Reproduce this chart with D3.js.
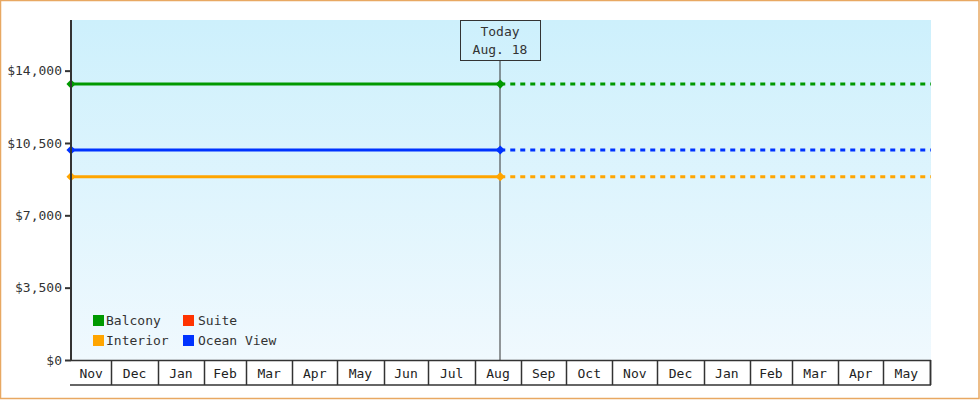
<!DOCTYPE html>
<html>
<head>
<meta charset="utf-8">
<script src="https://cdn.jsdelivr.net/npm/d3@7"></script>
<style>
  body { margin: 0; background: #fff; }
  svg { display: block; font-family: "DejaVu Sans Mono", monospace; }
</style>
</head>
<body>
<div class="chart"></div>
<script>
// data
var cabins = ["Balcony", "Suite", "Interior", "Ocean View"];
var cabinColors = ["#009900", "#ff3300", "#ffa500", "#0033ff"];
var prices = [13349, null, 8869, 10159];   // price on start day and today
var startDate = "2017-11-04";
var todayDate = "2018-08-18";
var endDate = "2019-06-02";
var todayLabel = ["Today", "Aug. 18"];
var yTicks = [0, 3500, 7000, 10500, 14000];
var yMax = 16450;

document.addEventListener('DOMContentLoaded', function() {

var width = 980, height = 400;
var plotL = 71, plotR = 931, plotT = 20, plotB = 360;

var parse = d3.timeParse("%Y-%m-%d");
var t0 = parse(startDate), tToday = parse(todayDate), t1 = parse(endDate);

var svg = d3.select('.chart')
            .append('svg')
            .attr('width', width)
            .attr('height', height);

// scales
var x = d3.scaleTime().domain([t0, t1]).range([plotL, plotR]);
var y = d3.scaleLinear().domain([0, yMax]).range([plotB, plotT]);

// background gradient
var grad = svg.append('defs').append('linearGradient')
  .attr('id', 'bg').attr('x1', 0).attr('y1', 0).attr('x2', 0).attr('y2', 1);
grad.append('stop').attr('offset', '0%').attr('stop-color', '#cdf0fc');
grad.append('stop').attr('offset', '100%').attr('stop-color', '#f0f9fe');

svg.append('rect')
  .attr('x', 0.5).attr('y', 0.5)
  .attr('width', width - 1.5).attr('height', height - 2)
  .attr('fill', '#fff')
  .attr('stroke', '#e8a862')
  .attr('stroke-width', 1.5);

svg.append('rect')
  .attr('x', plotL).attr('y', plotT)
  .attr('width', plotR - plotL).attr('height', plotB - plotT)
  .attr('fill', 'url(#bg)');

// today marker
var tx = Math.round(x(tToday));
svg.append('line')
  .attr('x1', tx).attr('x2', tx)
  .attr('y1', plotT + 40).attr('y2', plotB)
  .attr('stroke', '#333').attr('stroke-width', 1);
svg.append('rect')
  .attr('x', tx - 40 + 0.5).attr('y', plotT + 0.5)
  .attr('width', 80).attr('height', 40)
  .attr('fill', 'none').attr('stroke', '#333').attr('stroke-width', 1);
svg.append('text')
  .attr('text-anchor', 'middle')
  .attr('font-size', 13).attr('fill', '#333')
  .selectAll('tspan')
  .data(todayLabel)
  .enter()
    .append('tspan')
    .attr('x', tx)
    .attr('y', function(d, i) { return plotT + 16 + i * 18; })
    .text(function(d) { return d; });

// lines
var series = cabins.map(function(c, i) {
  return { name: c, color: cabinColors[i], price: prices[i] };
}).filter(function(s) { return s.price != null; });

var g = svg.append('g');
series.forEach(function(s) {
  g.append('line')
    .attr('x1', x(tToday)).attr('x2', x(t1))
    .attr('y1', y(s.price)).attr('y2', y(s.price))
    .attr('stroke', s.color).attr('stroke-width', 3)
    .attr('stroke-dasharray', '5,5');
  g.append('line')
    .attr('x1', x(t0)).attr('x2', x(tToday))
    .attr('y1', y(s.price)).attr('y2', y(s.price))
    .attr('stroke', s.color).attr('stroke-width', 3);
  [t0, tToday].forEach(function(t) {
    g.append('path')
      .attr('d', d3.symbol().type(d3.symbolSquare).size(42)())
      .attr('transform', 'translate(' + x(t) + ',' + y(s.price) + ') rotate(45)')
      .attr('fill', s.color);
  });
});

// y axis
var yAxis = svg.append('g')
  .attr('transform', 'translate(' + plotL + ',0)')
  .call(d3.axisLeft(y).tickValues(yTicks).tickSize(6).tickPadding(3)
    .tickFormat(function(d) { return '$' + d3.format(',')(d); }));
yAxis.select('.domain').remove();
yAxis.selectAll('.tick line').attr('stroke', '#333').attr('stroke-width', 2);
yAxis.selectAll('.tick text')
  .attr('font-family', '"DejaVu Sans Mono", monospace')
  .attr('font-size', 13).attr('fill', '#333');
svg.append('line')
  .attr('x1', plotL).attr('x2', plotL)
  .attr('y1', plotT).attr('y2', plotB + 1)
  .attr('stroke', '#333').attr('stroke-width', 2);

// month cells below the plot
var months = d3.timeMonth.range(d3.timeMonth.floor(t0), t1);
var xg = svg.append('g');
xg.append('line')
  .attr('x1', plotL - 1).attr('x2', plotR)
  .attr('y1', plotB + 25).attr('y2', plotB + 25)
  .attr('stroke', '#333').attr('stroke-width', 1.5);
xg.append('line')
  .attr('x1', plotL).attr('x2', plotR)
  .attr('y1', plotB + 0.5).attr('y2', plotB + 0.5)
  .attr('stroke', '#333').attr('stroke-width', 1.5);
xg.selectAll('line.sep')
  .data(months.filter(function(m) { return m > t0; }).concat([d3.timeMonth.floor(t1)]))
  .enter()
    .append('line')
    .attr('class', 'sep')
    .attr('x1', function(d) { return Math.round(x(d)) + 0.5; })
    .attr('x2', function(d) { return Math.round(x(d)) + 0.5; })
    .attr('y1', plotB).attr('y2', plotB + 25)
    .attr('stroke', '#333').attr('stroke-width', 1.5);
xg.selectAll('text')
  .data(months.filter(function(m) { return d3.timeMonth.offset(m, 1) <= t1; }))
  .enter()
    .append('text')
    .attr('x', function(d) {
      var a = Math.max(x(d), plotL);
      var b = Math.min(x(d3.timeMonth.offset(d, 1)), plotR);
      return (a + b) / 2;
    })
    .attr('y', plotB + 18)
    .attr('text-anchor', 'middle')
    .attr('font-size', 13).attr('fill', '#222')
    .text(d3.timeFormat('%b'));

// legend
var legend = svg.append('g').selectAll('g')
  .data(cabins)
  .enter()
    .append('g')
    .attr('transform', function(d, i) {
      return 'translate(' + (93 + (i % 2) * 90) + ',' + (315 + Math.floor(i / 2) * 20) + ')';
    });
legend.append('rect')
  .attr('width', 11).attr('height', 11)
  .attr('fill', function(d, i) { return cabinColors[i]; });
legend.append('text')
  .attr('x', function(d, i) { return i % 2 ? 15 : 13; })
  .attr('y', 10)
  .attr('font-size', 13).attr('fill', '#333')
  .text(function(d) { return d; });

});
</script>
</body>
</html>
